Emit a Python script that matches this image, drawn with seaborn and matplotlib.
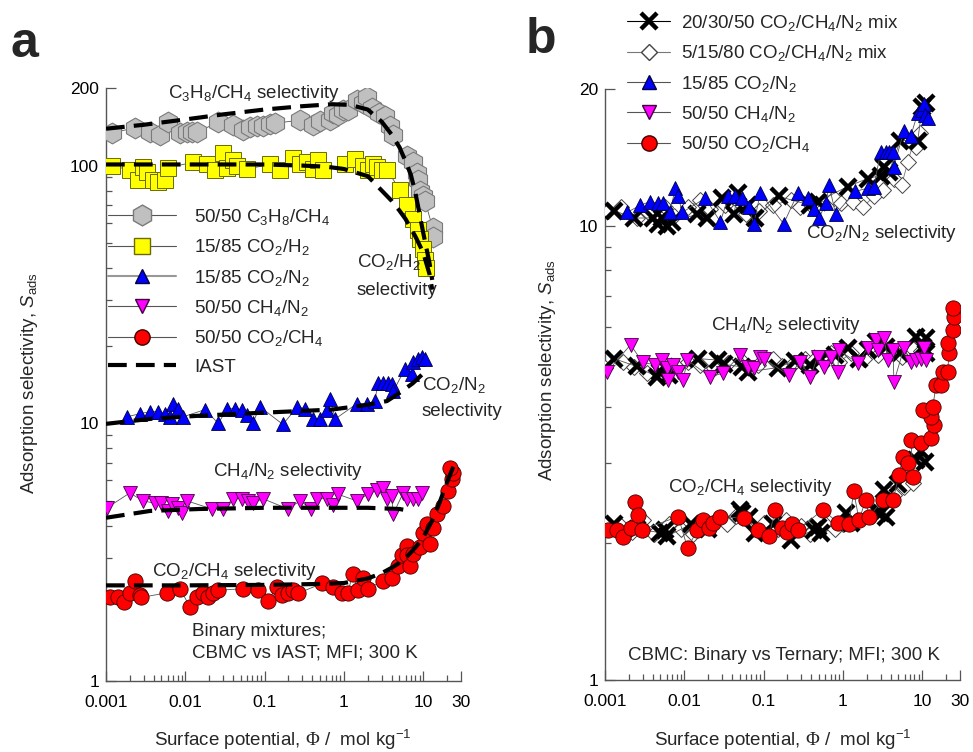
import numpy as np
import pandas as pd
import matplotlib
matplotlib.use("Agg")
import matplotlib.pyplot as plt
from matplotlib.ticker import FixedLocator, FixedFormatter, NullFormatter
from matplotlib.lines import Line2D
import seaborn as sns

sns.set_style("ticks")
plt.rcParams["font.family"] = ["Liberation Sans", "DejaVu Sans"]
plt.rcParams["mathtext.fontset"] = "custom"
plt.rcParams["mathtext.rm"] = "Liberation Serif"
plt.rcParams["mathtext.it"] = "Liberation Sans:italic"
plt.rcParams["mathtext.default"] = "regular"

# ---------------- panel a: binary mixtures, CBMC vs IAST ----------------
c3h8_x = [0.0012, 0.0023, 0.0036, 0.0048, 0.0061, 0.0086, 0.0105, 0.012, 0.014, 0.026,
          0.040, 0.053, 0.065, 0.080, 0.095, 0.117, 0.135, 0.28, 0.41, 0.50,
          0.67, 0.73, 0.85, 0.97, 1.12, 1.45, 1.73, 1.96, 2.26, 2.8,
          3.3, 3.8, 4.2, 6.2, 7.4, 8.3, 8.6, 9.1, 10.0, 10.5, 13.3, 13.3]
c3h8_y = [134, 140, 135, 132, 148, 134, 135, 135, 135, 147,
          144, 137, 141, 142, 143, 145, 146, 150, 144, 149,
          150, 160, 157, 164, 165, 180, 175, 185, 168, 160,
          156, 143, 132, 109, 103, 94, 88, 80, 76, 73, 57, 53]

co2h2_x = [0.0012, 0.002, 0.0025, 0.0029, 0.0033, 0.0039, 0.0045, 0.0055, 0.006, 0.0125,
           0.0187, 0.0236, 0.0297, 0.034, 0.040, 0.045, 0.060, 0.117, 0.156, 0.228,
           0.28, 0.34, 0.41, 0.47, 0.55, 1.03, 1.37, 1.73, 2.0, 2.3,
           2.6, 3.0, 3.5, 5.1, 6.2, 7.4, 8.6, 9.1, 10.0, 10.5, 11.0]
co2h2_y = [100, 96, 88, 99, 94.5, 88, 86, 88, 98, 103,
           101, 96, 112, 98, 105, 100, 97, 101, 96, 107,
           101, 103, 97, 105, 96, 101, 106, 100, 96, 101,
           99, 96, 96, 80.5, 70, 62, 56, 52, 47.5, 43, 40]

co2n2_x = [0.00184, 0.0027, 0.0036, 0.0045, 0.0055, 0.0064, 0.007, 0.008, 0.0094, 0.0177,
           0.026, 0.034, 0.042, 0.052, 0.060, 0.071, 0.087, 0.17, 0.26, 0.32,
           0.41, 0.50, 0.61, 0.67, 0.78, 1.45, 1.96, 2.45, 2.7, 3.1,
           3.6, 4.0, 4.2, 5.9, 7.2, 7.4, 8.6, 9.6, 10.5]
co2n2_y = [10.6, 10.9, 11.1, 11.1, 10.9, 10.6, 11.9, 11.4, 10.6, 11.3,
           10.0, 11.4, 11.4, 11.3, 10.8, 10.0, 11.6, 9.9, 11.6, 11.4,
           10.4, 10.4, 11.3, 12.4, 10.4, 11.9, 11.9, 12.2, 14.3, 14.3,
           14.3, 14.2, 13.3, 16.3, 15.6, 17.3, 17.8, 18.1, 17.7]

ch4n2_x = [0.00103, 0.002, 0.0029, 0.0041, 0.005, 0.006, 0.0068, 0.008, 0.009, 0.0105,
           0.0217, 0.03, 0.040, 0.052, 0.062, 0.071, 0.095, 0.197, 0.28, 0.39,
           0.46, 0.61, 0.73, 0.85, 1.45, 2.0, 2.6, 3.1, 3.5, 4.0,
           4.2, 5.6, 6.3, 7.4, 8.6, 9.6]
ch4n2_y = [4.7, 5.37, 5.0, 4.9, 4.9, 4.57, 4.86, 4.7, 4.5, 5.0,
           4.65, 4.65, 5.1, 5.1, 5.0, 4.9, 5.1, 4.65, 5.0, 4.65,
           5.1, 5.1, 4.8, 5.3, 5.0, 5.3, 5.5, 5.6, 5.1, 5.2,
           4.45, 5.37, 5.1, 5.1, 5.1, 5.37]

co2ch4_x = [0.00112, 0.0014, 0.0017, 0.002, 0.0023, 0.0027, 0.0028, 0.0059, 0.0086, 0.0115,
            0.014, 0.0167, 0.0193, 0.0224, 0.026, 0.053, 0.082, 0.11, 0.143, 0.165,
            0.197, 0.228, 0.265, 0.53, 0.73, 0.94, 1.12, 1.3, 1.5, 1.73,
            2.0, 3.1, 4.0, 4.8, 5.4, 6.3, 6.3, 6.8, 7.4, 9.1,
            10.0, 11.1, 12.3, 13.3, 14.9, 17.7, 20.8, 23.0, 24.0, 21.8]
co2ch4_y = [2.11, 2.11, 2.02, 2.19, 2.45, 2.15, 2.11, 2.2, 2.28, 1.93,
            2.11, 2.2, 2.11, 2.19, 2.25, 2.28, 2.25, 2.05, 2.31, 2.15,
            2.2, 2.25, 2.19, 2.39, 2.31, 2.2, 2.2, 2.61, 2.25, 2.5,
            2.28, 2.45, 2.5, 2.8, 3.07, 3.35, 3.07, 2.8, 3.12, 3.3,
            3.76, 4.07, 3.4, 3.93, 4.45, 4.78, 5.47, 6.1, 6.4, 6.7]

# IAST predictions
iast_c3h8_x = [0.001, 0.003, 0.01, 0.03, 0.1, 0.3, 0.7, 1.2, 2.0, 3.0, 4.0, 5.0, 6.0, 7.0, 8.0, 9.0, 10.0, 12.0, 13.0]
iast_c3h8_y = [139, 144, 151, 158, 165, 170, 173, 172, 165, 148, 132, 118, 104, 92, 78, 65, 55, 42, 36]
iast_co2h2_x = [0.001, 0.01, 0.1, 0.3, 0.6, 1.0, 2.0, 3.0, 4.0, 5.0, 6.0, 7.0, 8.0, 10.0, 12.0, 13.0]
iast_co2h2_y = [101, 101, 101, 100, 99, 97, 91, 80, 73, 67, 62, 57, 53, 46, 38, 33]
iast_co2n2_x = [0.001, 0.0036, 0.015, 0.1, 0.7, 2.0, 3.5, 5.0, 7.4, 10.0]
iast_co2n2_y = [9.95, 10.4, 10.7, 11.0, 11.3, 11.8, 12.2, 13.1, 14.3, 15.6]
iast_ch4n2_x = [0.001, 0.0036, 0.015, 0.1, 2.0, 5.0, 7.0]
iast_ch4n2_y = [4.3, 4.57, 4.65, 4.7, 4.7, 4.65, 4.57]
iast_co2ch4_x = [0.001, 0.01, 0.1, 0.5, 1.0, 2.0, 3.0, 4.0, 5.0, 6.0, 8.0, 10.0, 13.0, 16.0, 20.0, 25.0]
iast_co2ch4_y = [2.35, 2.35, 2.36, 2.38, 2.4, 2.5, 2.62, 2.75, 2.87, 3.0, 3.3, 3.6, 4.2, 4.9, 5.9, 7.0]

# ---------------- panel b: binary vs ternary CBMC ----------------
b_co2n2_x = [0.0019, 0.0028, 0.0037, 0.0046, 0.0054, 0.0066, 0.0077, 0.0084, 0.0094, 0.0184,
             0.0285, 0.036, 0.044, 0.054, 0.065, 0.075, 0.091, 0.179, 0.27, 0.36,
             0.43, 0.50, 0.61, 0.67, 0.81, 1.44, 2.05, 2.45, 3.0, 3.5,
             3.8, 4.3, 4.4, 5.9, 7.2, 8.8, 10.0, 10.5, 10.8, 11.8]
b_co2n2_y = [10.7, 11.1, 11.3, 11.2, 11.2, 10.7, 12.1, 11.6, 10.7, 11.5,
             10.2, 11.6, 11.6, 11.5, 11.0, 10.1, 11.8, 10.1, 11.8, 11.5,
             10.9, 10.4, 11.2, 12.3, 10.6, 11.9, 12.1, 12.2, 14.5, 14.5,
             14.5, 14.5, 13.5, 16.2, 15.8, 17.7, 18.0, 18.5, 17.5, 17.3]

b_ch4n2_x = [0.00106, 0.0021, 0.003, 0.0043, 0.0053, 0.0061, 0.0063, 0.0073, 0.0084, 0.0097,
             0.0109, 0.0213, 0.031, 0.051, 0.064, 0.075, 0.091, 0.1, 0.207, 0.29,
             0.39, 0.48, 0.57, 0.70, 0.86, 0.89, 1.56, 2.05, 2.6, 2.8,
             3.3, 3.7, 4.3, 4.4, 5.9, 7.2, 8.3, 9.6, 10.5, 11.1]
b_ch4n2_y = [4.77, 5.47, 5.0, 4.94, 5.06, 4.87, 4.58, 4.94, 4.77, 4.58,
             5.06, 4.65, 4.74, 5.2, 4.89, 4.87, 5.15, 5.1, 4.69, 5.0,
             4.65, 5.15, 4.89, 5.15, 4.77, 5.32, 4.98, 5.38, 5.6, 5.32,
             5.66, 5.06, 5.32, 4.53, 5.38, 5.0, 5.06, 5.1, 5.38, 5.06]

b_co2ch4_x = [0.0011, 0.0014, 0.0017, 0.0021, 0.0024, 0.0026, 0.0029, 0.0084, 0.011, 0.0146,
              0.0174, 0.0202, 0.0233, 0.0285, 0.056, 0.084, 0.116, 0.141, 0.17, 0.2,
              0.23, 0.27, 0.56, 0.86, 1.19, 1.37, 1.6, 1.94, 2.14, 3.2,
              4.3, 5.1, 5.7, 6.6, 7.7, 7.2, 9.6, 12.9, 14.3, 12.9,
              10.2, 13.6, 15.0, 17.5, 18.2, 21.0, 21.8, 21.0, 24.4, 25.5, 24.4]
b_co2ch4_y = [2.14, 2.14, 2.06, 2.16, 2.47, 2.31, 2.14, 2.29, 1.95, 2.14,
              2.25, 2.16, 2.22, 2.29, 2.27, 2.14, 2.07, 2.37, 2.16, 2.12,
              2.2, 2.14, 2.37, 2.22, 2.2, 2.6, 2.25, 2.49, 2.29, 2.49,
              2.49, 2.83, 3.09, 3.0, 2.8, 3.38, 3.33, 3.41, 3.64, 3.79,
              3.93, 3.99, 4.47, 4.47, 4.77, 4.77, 5.25, 5.53, 5.9, 6.3, 6.6]

# 20/30/50 CO2/CH4/N2 ternary mixture
t1_co2n2_x = [0.0013, 0.0023, 0.0040, 0.0046, 0.0053, 0.0061, 0.007, 0.0146, 0.0195, 0.030,
              0.042, 0.048, 0.063, 0.079, 0.155, 0.39, 0.48, 1.15, 2.05, 3.0,
              3.3, 3.8, 5.3, 8.8, 10.0, 11.2]
t1_co2n2_y = [10.8, 10.4, 10.4, 10.1, 10.4, 10.0, 10.2, 10.6, 10.4, 11.5,
              10.6, 11.8, 11.1, 10.4, 11.6, 11.1, 11.3, 12.2, 12.7, 12.9,
              13.5, 13.1, 15.4, 15.4, 18.3, 18.6]
t1_ch4n2_x = [0.0013, 0.0025, 0.0045, 0.005, 0.0057, 0.0065, 0.015, 0.027, 0.032, 0.054,
              0.063, 0.15, 0.25, 0.39, 0.53, 0.8, 1.15, 1.6, 2.05, 2.6,
              3.5, 5.3, 8.3, 10.2, 11.2, 11.2]
t1_ch4n2_y = [5.1, 4.9, 4.65, 4.77, 4.89, 4.7, 5.1, 5.06, 4.95, 4.89,
              4.77, 4.87, 5.05, 4.94, 5.1, 5.2, 5.38, 5.1, 5.32, 5.55,
              5.4, 5.25, 5.7, 5.4, 5.66, 5.25]
t1_co2ch4_x = [0.0013, 0.0025, 0.005, 0.0057, 0.006, 0.012, 0.02, 0.051, 0.054, 0.065,
               0.079, 0.13, 0.22, 0.43, 0.48, 0.53, 1.08, 1.25, 2.8, 3.0,
               3.5, 3.3, 5.0, 8.4, 9.6, 11.0]
t1_co2ch4_y = [2.2, 2.15, 2.11, 2.14, 2.07, 2.2, 2.15, 2.37, 2.33, 2.29,
               2.11, 2.2, 2.03, 2.14, 2.17, 2.11, 2.33, 2.22, 2.33, 2.33,
               2.29, 2.62, 2.7, 3.05, 3.2, 3.02]

# 5/15/80 CO2/CH4/N2 ternary mixture
t2_co2n2_x = [0.0011, 0.0016, 0.0025, 0.0035, 0.0057, 0.0075, 0.011, 0.016, 0.021, 0.033,
              0.051, 0.06, 0.087, 0.133, 0.22, 0.29, 0.4, 0.77, 0.94, 1.36,
              1.8, 2.45, 3.2, 4.4, 5.5, 6.6, 7.7, 8.4, 9.5]
t2_co2n2_y = [10.8, 11.0, 10.4, 10.7, 11.0, 10.5, 11.0, 11.4, 10.9, 11.1,
              11.2, 10.6, 10.8, 11.1, 11.4, 11.0, 11.1, 11.5, 11.2, 11.3,
              11.0, 11.6, 12.0, 12.7, 12.3, 13.8, 15.2, 14.9, 16.0]
t2_ch4n2_x = [0.001, 0.0017, 0.0023, 0.0034, 0.0055, 0.0081, 0.011, 0.016, 0.024, 0.036,
              0.055, 0.084, 0.133, 0.17, 0.24, 0.33, 0.43, 0.70, 0.9, 1.25,
              1.84, 2.8, 3.5, 4.4, 5.5, 7.2, 9.6]
t2_ch4n2_y = [4.85, 5.0, 4.89, 4.74, 4.8, 4.89, 5.0, 4.94, 4.85, 4.98,
              5.0, 4.94, 5.1, 4.9, 4.98, 5.1, 5.06, 5.25, 5.0, 5.25,
              5.1, 5.2, 5.35, 5.3, 5.15, 5.4, 5.3]
t2_co2ch4_x = [0.001, 0.0016, 0.0022, 0.003, 0.0042, 0.0065, 0.009, 0.013, 0.025, 0.035,
               0.045, 0.07, 0.1, 0.15, 0.19, 0.3, 0.38, 0.6, 0.8, 1.0,
               1.5, 2.3, 3.3, 4.4, 5.9, 7.7]
t2_co2ch4_y = [2.2, 2.18, 2.12, 2.25, 2.1, 2.2, 2.15, 2.1, 2.25, 2.2,
               2.3, 2.2, 2.22, 2.15, 2.25, 2.18, 2.1, 2.2, 2.15, 2.2,
               2.25, 2.3, 2.45, 2.55, 2.66, 2.71]

x_ticks = [0.001, 0.01, 0.1, 1, 10, 30]
x_ticklabels = ["0.001", "0.01", "0.1", "1", "10", "30"]
ya_ticks = [1, 10, 100, 200]
ya_ticklabels = ["1", "10", "100", "200"]
yb_ticks = [1, 10, 20]
yb_ticklabels = ["1", "10", "20"]

W, H = 973, 752
fig = plt.figure(figsize=(W / 100, H / 100), dpi=100)


def fx(x):
    return x / W


def fy(y):
    return 1 - y / H


ax_a = fig.add_axes([fx(106), fy(681), (461 - 106) / W, (681 - 88) / H])
ax_b = fig.add_axes([fx(605), fy(680), (960 - 605) / W, (680 - 89) / H])

LINE_C = "#555555"
TICK_FS = 12.5
TXT_FS = 13.5


def series(ax, xs, ys, marker, ms, fc, ec, mew=0.7, label=None, lc=LINE_C, z=3):
    df = pd.DataFrame({"x": xs, "y": ys})
    sns.lineplot(data=df, x="x", y="y", ax=ax, sort=False, estimator=None,
                 color=lc, linewidth=0.6, marker=marker, markersize=ms,
                 markerfacecolor=fc, markeredgecolor=ec, markeredgewidth=mew,
                 label=label, zorder=z, legend=False)


def iast(ax, xs, ys, label=None):
    df = pd.DataFrame({"x": xs, "y": ys})
    sns.lineplot(data=df, x="x", y="y", ax=ax, sort=False, estimator=None,
                 color="black", linewidth=3.0, dashes=False, label=label,
                 zorder=6, legend=False)
    ax.lines[-1].set_dashes((4.5, 2.2))
    ax.lines[-1].set_dash_capstyle("butt")


for ax in (ax_a, ax_b):
    ax.set_xscale("log")
    ax.set_yscale("log")

# panel a
series(ax_a, c3h8_x, c3h8_y, "h", 15, "#c0c0c0", "#7a7a7a", 0.8)
series(ax_a, co2h2_x, co2h2_y, "s", 12, "#ffff00", "#6b6b00", 0.7)
series(ax_a, co2n2_x, co2n2_y, "^", 10.5, "#0000ff", "#000040", 0.6)
series(ax_a, ch4n2_x, ch4n2_y, "v", 10.5, "#ff00ff", "#400040", 0.6)
series(ax_a, co2ch4_x, co2ch4_y, "o", 11, "#ff0000", "#400000", 0.6)
iast(ax_a, iast_c3h8_x, iast_c3h8_y)
iast(ax_a, iast_co2h2_x, iast_co2h2_y)
iast(ax_a, iast_co2n2_x, iast_co2n2_y)
iast(ax_a, iast_ch4n2_x, iast_ch4n2_y)
iast(ax_a, iast_co2ch4_x, iast_co2ch4_y)

# panel b
series(ax_b, t2_co2n2_x, t2_co2n2_y, "D", 8.5, "white", "#444444", 0.7, lc="#777777", z=3)
series(ax_b, t2_ch4n2_x, t2_ch4n2_y, "D", 8.5, "white", "#444444", 0.7, lc="#777777", z=3)
series(ax_b, t2_co2ch4_x, t2_co2ch4_y, "D", 8.5, "white", "#444444", 0.7, lc="#777777", z=3)
series(ax_b, t1_co2n2_x, t1_co2n2_y, "x", 11, "black", "black", 3.2, z=3.5)
series(ax_b, t1_ch4n2_x, t1_ch4n2_y, "x", 11, "black", "black", 3.2, z=3.5)
series(ax_b, t1_co2ch4_x, t1_co2ch4_y, "x", 11, "black", "black", 3.2, z=3.5)
series(ax_b, b_co2n2_x, b_co2n2_y, "^", 10.5, "#0000ff", "#000040", 0.6, z=4)
series(ax_b, b_ch4n2_x, b_ch4n2_y, "v", 10.5, "#ff00ff", "#400040", 0.6, z=4)
series(ax_b, b_co2ch4_x, b_co2ch4_y, "o", 11, "#ff0000", "#400000", 0.6, z=4)

# axes styling
x_minor = [k * 10.0 ** e for e in range(-3, 2) for k in range(2, 10) if k * 10.0 ** e < 30]
for ax, ylim, yt, ytl in ((ax_a, (1, 200), ya_ticks, ya_ticklabels),
                          (ax_b, (1, 20), yb_ticks, yb_ticklabels)):
    ax.set_xlim(0.001, 30)
    ax.set_ylim(*ylim)
    ax.xaxis.set_major_locator(FixedLocator(x_ticks))
    ax.xaxis.set_major_formatter(FixedFormatter(x_ticklabels))
    ax.xaxis.set_minor_locator(FixedLocator(x_minor))
    ax.xaxis.set_minor_formatter(NullFormatter())
    ax.yaxis.set_major_locator(FixedLocator(yt))
    ax.yaxis.set_major_formatter(FixedFormatter(ytl))
    y_minor = [k * 10.0 ** e for e in range(0, 3) for k in range(2, 10) if k * 10.0 ** e < ylim[1]]
    ax.yaxis.set_minor_locator(FixedLocator(y_minor))
    ax.yaxis.set_minor_formatter(NullFormatter())
    ax.tick_params(which="both", direction="in", color="#555555", width=0.9,
                   labelsize=TICK_FS, labelcolor="black")
    ax.tick_params(which="major", length=7)
    ax.tick_params(which="minor", length=4)
    ax.tick_params(axis="x", pad=10)
    ax.tick_params(axis="y", pad=5)
    for s in ("top", "right"):
        ax.spines[s].set_visible(False)
    for s in ("left", "bottom"):
        ax.spines[s].set_color("#555555")
        ax.spines[s].set_linewidth(1.0)
    ax.set_xlabel("")
    ax.set_ylabel("")
    ax.set_facecolor("none")

# legend a
sub = dict(color=LINE_C, linewidth=0.8)
handles_a = [
    Line2D([], [], marker="h", markersize=15, markerfacecolor="#c0c0c0", markeredgecolor="#7a7a7a", **sub),
    Line2D([], [], marker="s", markersize=12, markerfacecolor="#ffff00", markeredgecolor="#6b6b00", **sub),
    Line2D([], [], marker="^", markersize=10.5, markerfacecolor="#0000ff", markeredgecolor="#000040",
           color="#999999", linewidth=1.5),
    Line2D([], [], marker="v", markersize=10.5, markerfacecolor="#ff00ff", markeredgecolor="#400040", **sub),
    Line2D([], [], marker="o", markersize=11, markerfacecolor="#ff0000", markeredgecolor="#400000", **sub),
    Line2D([], [], color="black", linewidth=3.0, dashes=(4.5, 2.2)),
]
labels_a = ["50/50 C$_3$H$_8$/CH$_4$", "15/85 CO$_2$/H$_2$", "15/85 CO$_2$/N$_2$",
            "50/50 CH$_4$/N$_2$", "50/50 CO$_2$/CH$_4$", "IAST"]
ax_a.legend(handles_a, labels_a, loc="upper left", bbox_to_anchor=(fx(108), fy(207)),
            bbox_transform=fig.transFigure, frameon=False, fontsize=TXT_FS,
            handlelength=3.6, handletextpad=1.0, labelspacing=0.55, borderpad=0,
            borderaxespad=0)

# legend b
handles_b = [
    Line2D([], [], marker="x", markersize=11, markeredgewidth=3.2, color="black", linewidth=0.8,
           markeredgecolor="black"),
    Line2D([], [], marker="D", markersize=8.5, markerfacecolor="white", markeredgecolor="#444444",
           color="#777777", linewidth=0.8),
    Line2D([], [], marker="^", markersize=10.5, markerfacecolor="#0000ff", markeredgecolor="#000040", **sub),
    Line2D([], [], marker="v", markersize=10.5, markerfacecolor="#ff00ff", markeredgecolor="#400040", **sub),
    Line2D([], [], marker="o", markersize=11, markerfacecolor="#ff0000", markeredgecolor="#400000", **sub),
]
labels_b = ["20/30/50 CO$_2$/CH$_4$/N$_2$ mix", "5/15/80 CO$_2$/CH$_4$/N$_2$ mix",
            "15/85 CO$_2$/N$_2$", "50/50 CH$_4$/N$_2$", "50/50 CO$_2$/CH$_4$"]
fig.legend(handles_b, labels_b, loc="upper left", bbox_to_anchor=(fx(627), fy(13)),
           frameon=False, fontsize=TXT_FS, handlelength=2.3, handletextpad=0.6,
           labelspacing=0.55, borderpad=0, borderaxespad=0)

# annotations
def note(x, y, s, **kw):
    fig.text(fx(x), fy(y), s, fontsize=TXT_FS, ha="left", va="center", **kw)


note(168, 93, "C$_3$H$_8$/CH$_4$ selectivity")
note(357, 262, "CO$_2$/H$_2$")
note(357, 290, "selectivity")
note(422, 385, "CO$_2$/N$_2$")
note(422, 411, "selectivity")
note(213, 472, "CH$_4$/N$_2$ selectivity")
note(152, 572, "CO$_2$/CH$_4$ selectivity")
note(192, 631, "Binary mixtures;")
note(192, 653, "CBMC vs IAST; MFI; 300 K")

note(806, 233, "CO$_2$/N$_2$ selectivity")
note(711, 325, "CH$_4$/N$_2$ selectivity")
note(668, 487, "CO$_2$/CH$_4$ selectivity")
note(628, 656, "CBMC: Binary vs Ternary; MFI; 300 K")

# panel letters
fig.text(fx(10), fy(44), "a", fontsize=36, fontweight="bold", ha="left", va="center")
fig.text(fx(526), fy(40), "b", fontsize=36, fontweight="bold", ha="left", va="center")

# axis titles
ylab = "Adsorption selectivity, $\\mathit{S}_{ads}$"
xlab = "Surface potential, $\\mathrm{\\Phi}$ /  mol kg$^{-1}$"
fig.text(fx(30), fy(383), ylab, fontsize=TXT_FS, rotation=90, ha="center", va="center")
fig.text(fx(548), fy(370), ylab, fontsize=TXT_FS, rotation=90, ha="center", va="center")
fig.text(fx(283), fy(740), xlab, fontsize=TXT_FS, ha="center", va="center")
fig.text(fx(783), fy(740), xlab, fontsize=TXT_FS, ha="center", va="center")

fig.savefig("out.png", dpi=100)
